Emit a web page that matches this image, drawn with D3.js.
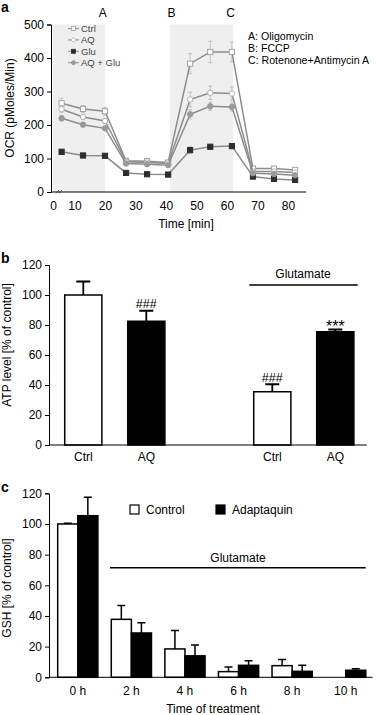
<!DOCTYPE html>
<html lang="en">
  <head>
    <meta charset="UTF-8" />
    <style>
      body { margin: 0; background: #fff; }
      svg { display: block; font-family: "Liberation Sans", Arial, sans-serif; }
      .domain { stroke: #000; }
      .tick line { stroke: #000; }
    </style>
    <title>ocr-atp-gsh</title>
  </head>
  <body>
    <svg width="376" height="715" id="svg"></svg>
    <script src="https://cdn.jsdelivr.net/npm/d3@7"></script>
    <script>
      // panel a: OCR over time (Seahorse)
      const timeMin = [4, 12.8, 20, 26.9, 33.8, 40.7, 47.9, 54.5, 61.6, 68.5, 75.4, 82.3];
      const ctrlOcr = [265, 248, 241, 93, 92, 88, 383, 418, 418, 70, 70, 66];
      const ctrlErr = [15, 10, 12, 6, 6, 6, 30, 32, 30, 5, 5, 5];
      const aqOcr = [247, 224, 212, 90, 88, 85, 276, 296, 294, 61, 61, 58];
      const aqErr = [10, 8, 8, 5, 5, 5, 22, 20, 20, 4, 4, 4];
      const gluOcr = [120, 109, 108, 57, 53, 52, 125, 135, 137, 46, 39, 36];
      const gluErr = [8, 6, 6, 4, 4, 4, 10, 8, 6, 3, 3, 3];
      const aqGluOcr = [220, 201, 190, 85, 83, 80, 232, 256, 254, 56, 54, 50];
      const aqGluErr = [8, 6, 6, 4, 4, 4, 14, 12, 12, 3, 3, 3];
      const ocrTicks = [0, 100, 200, 300, 400, 500];
      const timeTicks = [0, 10, 20, 30, 40, 50, 60, 70, 80];
      const injections = [
        { label: "A", from: 0, to: 20 },
        { label: "B", from: 41.3, to: 62 },
      ];
      const injectionLabels = [
        { label: "A", at: 19.3 },
        { label: "B", at: 41.8 },
        { label: "C", at: 61.2 },
      ];
      const injectionNotes = ["A: Oligomycin", "B: FCCP", "C: Rotenone+Antimycin A"];

      // panel b: ATP
      const atpKeys = ["ctrl", "aq", "gap", "ctrlGlu", "aqGlu"];
      const atpLabels = ["Ctrl", "AQ", "", "Ctrl", "AQ"];
      const atpValues = [100, 82.5, null, 35.5, 75.5];
      const atpErr = [9, 7, null, 5, 1.5];
      const atpMarks = ["", "###", "", "###", "***"];
      const atpTicks = [0, 20, 40, 60, 80, 100, 120];

      // panel c: GSH
      const gshTimes = ["0 h", "2 h", "4 h", "6 h", "8 h", "10 h"];
      const gshControl = [100, 37.8, 18.5, 3.7, 7.6, 0];
      const gshControlErr = [0.5, 9, 12, 3, 4, 0];
      const gshAq = [105.4, 28.9, 14, 7.8, 3.9, 4.6];
      const gshAqErr = [12, 6.7, 7, 3, 4, 1];
      const gshTicks = [0, 20, 40, 60, 80, 100, 120];

      const svg = d3.select("#svg");
      const fs = 12;

      function panelLetter(t, y) {
        svg.append("text").text(t).attr("x", 1).attr("y", y)
          .attr("font-size", 14).attr("font-weight", "bold");
      }
      function yTitle(t, cx, cy) {
        svg.append("text").text(t)
          .attr("transform", `translate(${cx},${cy}) rotate(-90)`)
          .attr("text-anchor", "middle").attr("font-size", fs);
      }
      function styleAxis(g) {
        g.selectAll("text").attr("font-size", fs).attr("fill", "#000")
          .attr("font-family", "Liberation Sans, Arial, sans-serif");
      }

      // ---------- panel a ----------
      const aLeft = 51, aRight = 306;
      const xa = d3.scaleLinear().domain([0, 10, 85]).range([53, 74.5, 303.3]);
      const ya = d3.scaleLinear().domain([0, 500]).range([192, 24.5]);
      const ga = svg.append("g");

      ga.selectAll("rect.shade").data(injections).join("rect")
        .attr("class", "shade")
        .attr("x", (d) => Math.max(aLeft, xa(d.from)))
        .attr("y", ya(500))
        .attr("width", (d) => xa(d.to) - Math.max(aLeft, xa(d.from)))
        .attr("height", ya(0) - ya(500))
        .attr("fill", "#efefef");

      ga.selectAll("text.inj").data(injectionLabels).join("text")
        .attr("class", "inj")
        .attr("x", (d) => xa(d.at)).attr("y", 17)
        .attr("text-anchor", "middle").attr("font-size", fs).text((d) => d.label);

      ga.selectAll("text.note").data(injectionNotes).join("text")
        .attr("class", "note")
        .attr("x", 248).attr("y", (d, i) => 40 + i * 12)
        .attr("font-size", 10.6).text((d) => d);

      const yAxA = ga.append("g").attr("transform", `translate(${aLeft},0)`)
        .call(d3.axisLeft(ya).tickValues(ocrTicks).tickSize(4).tickPadding(3));
      styleAxis(yAxA);
      const xAxA = ga.append("g").attr("transform", `translate(0,${ya(0)})`)
        .call(d3.axisBottom(xa).tickValues(timeTicks).tickSize(0).tickPadding(9).tickSizeOuter(0));
      xAxA.select(".domain").attr("d", `M${aLeft},0H${aRight}`);
      styleAxis(xAxA);
      // axis break marks
      [0, 3].forEach((o) => {
        ga.append("line")
          .attr("x1", 56 + o).attr("y1", ya(0) + 1.5)
          .attr("x2", 59 + o).attr("y2", ya(0) - 2)
          .attr("stroke", "#333").attr("stroke-width", 0.8);
      });

      svg.append("text").text("Time [min]").attr("x", 186).attr("y", 228)
        .attr("text-anchor", "middle").attr("font-size", fs);
      yTitle("OCR (pMoles/Min)", 14, 108);
      panelLetter("a", 12);

      const series = [
        { name: "Ctrl", v: ctrlOcr, e: ctrlErr, shape: "square", fill: "#fff", stroke: "#a3a3a3" },
        { name: "AQ", v: aqOcr, e: aqErr, shape: "circle", fill: "#fff", stroke: "#b0b0b0" },
        { name: "Glu", v: gluOcr, e: gluErr, shape: "square", fill: "#2e2e2e", stroke: "#2e2e2e" },
        { name: "AQ + Glu", v: aqGluOcr, e: aqGluErr, shape: "circle", fill: "#9a9a9a", stroke: "#9a9a9a" },
      ];
      const line = d3.line().x((d) => xa(d.t)).y((d) => ya(d.v));

      series.forEach((s) => {
        const pts = timeMin.map((t, i) => ({ t, v: s.v[i], e: s.e[i] }));
        const sg = ga.append("g");
        sg.selectAll("path.err").data(pts).join("path").attr("class", "err")
          .attr("d", (d) => {
            const x = xa(d.t), y1 = ya(d.v + d.e), y2 = ya(d.v - d.e);
            return `M${x},${y1}V${y2}M${x - 2},${y1}H${x + 2}M${x - 2},${y2}H${x + 2}`;
          })
          .attr("stroke", "#b5b5b5").attr("stroke-width", 0.8).attr("fill", "none");
        sg.append("path").datum(pts).attr("d", line)
          .attr("fill", "none").attr("stroke", "#8c8c8c").attr("stroke-width", 1.5);
        if (s.shape === "square") {
          sg.selectAll("rect").data(pts).join("rect")
            .attr("x", (d) => xa(d.t) - 2.6).attr("y", (d) => ya(d.v) - 2.6)
            .attr("width", 5.2).attr("height", 5.2)
            .attr("fill", s.fill).attr("stroke", s.stroke).attr("stroke-width", 1);
        } else {
          sg.selectAll("circle").data(pts).join("circle")
            .attr("cx", (d) => xa(d.t)).attr("cy", (d) => ya(d.v)).attr("r", 2.7)
            .attr("fill", s.fill).attr("stroke", s.stroke).attr("stroke-width", 1);
        }
      });

      // legend a
      const lg = ga.append("g");
      series.forEach((s, i) => {
        const y = 28.5 + i * 11.4;
        lg.append("line").attr("x1", 68).attr("x2", 79).attr("y1", y).attr("y2", y)
          .attr("stroke", "#9a9a9a").attr("stroke-width", 1.2);
        if (s.shape === "square") {
          lg.append("rect").attr("x", 71.5).attr("y", y - 2).attr("width", 4).attr("height", 4)
            .attr("fill", s.fill).attr("stroke", s.stroke).attr("stroke-width", 0.8);
        } else {
          lg.append("circle").attr("cx", 73.5).attr("cy", y).attr("r", 2)
            .attr("fill", s.fill).attr("stroke", s.stroke).attr("stroke-width", 0.8);
        }
        lg.append("text").text(s.name).attr("x", 81).attr("y", y + 3.3)
          .attr("font-size", 9.5).attr("fill", "#444");
      });

      // ---------- panel b ----------
      const bLeft = 49;
      const xb = d3.scaleBand().domain(atpKeys).range([51.8, 366.8])
        .paddingInner(0.41).paddingOuter(0.205);
      const yb = d3.scaleLinear().domain([0, 120]).range([445, 265]);
      const gb = svg.append("g");
      const atpData = atpKeys.map((k, i) => ({ k, v: atpValues[i], e: atpErr[i], lab: atpLabels[i], m: atpMarks[i], dark: i % 3 === 1 }))
        .filter((d) => d.v !== null);

      gb.selectAll("path.err").data(atpData).join("path").attr("class", "err")
        .attr("d", (d) => {
          const cx = xb(d.k) + xb.bandwidth() / 2;
          return `M${cx},${yb(d.v)}V${yb(d.v + d.e)}M${cx - 7},${yb(d.v + d.e)}H${cx + 7}`;
        })
        .attr("stroke", "#000").attr("stroke-width", 1.8).attr("fill", "none");
      gb.selectAll("rect.bar").data(atpData).join("rect").attr("class", "bar")
        .attr("x", (d) => xb(d.k)).attr("width", xb.bandwidth())
        .attr("y", (d) => yb(d.v)).attr("height", (d) => yb(0) - yb(d.v))
        .attr("fill", (d) => (d.dark ? "#000" : "#fff"))
        .attr("stroke", "#000").attr("stroke-width", 1.5);
      gb.selectAll("text.mark").data(atpData.filter((d) => d.m)).join("text").attr("class", "mark")
        .attr("x", (d) => xb(d.k) + xb.bandwidth() / 2)
        .attr("y", (d) => yb(d.v + d.e) + (d.m === "***" ? 2 : -2.5))
        .attr("text-anchor", "middle").attr("font-size", (d) => (d.m === "***" ? 16 : 12.5)).text((d) => d.m);

      const yAxB = gb.append("g").attr("transform", `translate(${bLeft},0)`)
        .call(d3.axisLeft(yb).tickValues(atpTicks).tickSize(4).tickPadding(3));
      styleAxis(yAxB);
      const xAxB = gb.append("g").attr("transform", `translate(0,${yb(0)})`)
        .call(d3.axisBottom(xb).tickSize(0).tickPadding(7.5).tickFormat((k) => atpLabels[atpKeys.indexOf(k)]));
      xAxB.select(".domain").attr("d", `M${bLeft},0H366.8`);
      styleAxis(xAxB);

      gb.append("line").attr("x1", 249.3).attr("x2", 357.7).attr("y1", 285).attr("y2", 285)
        .attr("stroke", "#000").attr("stroke-width", 1.5);
      gb.append("text").text("Glutamate").attr("x", 303).attr("y", 278)
        .attr("text-anchor", "middle").attr("font-size", fs);
      yTitle("ATP level [% of control]", 11, 345);
      panelLetter("b", 263);

      // ---------- panel c ----------
      const cLeft = 49;
      const xc = d3.scaleBand().domain(gshTimes).range([51, 372.5])
        .paddingInner(0.25).paddingOuter(0.125);
      const xcInner = d3.scaleBand().domain(["control", "aq"]).range([0, xc.bandwidth()]);
      const yc = d3.scaleLinear().domain([0, 120]).range([677.3, 493.3]);
      const gc = svg.append("g");
      const gshData = [];
      gshTimes.forEach((t, i) => {
        gshData.push({ t, s: "control", v: gshControl[i], e: gshControlErr[i] });
        gshData.push({ t, s: "aq", v: gshAq[i], e: gshAqErr[i] });
      });
      const shown = gshData.filter((d) => d.v > 0);

      gc.selectAll("path.err").data(shown).join("path").attr("class", "err")
        .attr("d", (d) => {
          const cx = xc(d.t) + xcInner(d.s) + xcInner.bandwidth() / 2;
          return `M${cx},${yc(d.v)}V${yc(d.v + d.e)}M${cx - 4},${yc(d.v + d.e)}H${cx + 4}`;
        })
        .attr("stroke", "#000").attr("stroke-width", 1.5).attr("fill", "none");
      gc.selectAll("rect.bar").data(shown).join("rect").attr("class", "bar")
        .attr("x", (d) => xc(d.t) + xcInner(d.s)).attr("width", xcInner.bandwidth())
        .attr("y", (d) => yc(d.v)).attr("height", (d) => yc(0) - yc(d.v))
        .attr("fill", (d) => (d.s === "aq" ? "#000" : "#fff"))
        .attr("stroke", "#000").attr("stroke-width", 1.5);

      const yAxC = gc.append("g").attr("transform", `translate(${cLeft},0)`)
        .call(d3.axisLeft(yc).tickValues(gshTicks).tickSize(4).tickPadding(3));
      styleAxis(yAxC);
      const xAxC = gc.append("g").attr("transform", `translate(0,${yc(0)})`)
        .call(d3.axisBottom(xc).tickSize(0).tickPadding(9));
      xAxC.select(".domain").attr("d", `M${cLeft},0H372.5`);
      styleAxis(xAxC);

      gc.append("line").attr("x1", 110).attr("x2", 365.7).attr("y1", 567.7).attr("y2", 567.7)
        .attr("stroke", "#000").attr("stroke-width", 1.5);
      gc.append("text").text("Glutamate").attr("x", 238).attr("y", 562)
        .attr("text-anchor", "middle").attr("font-size", fs);

      const legC = [
        { name: "Control", fill: "#fff", x: 130 },
        { name: "Adaptaquin", fill: "#000", x: 216 },
      ];
      legC.forEach((l) => {
        gc.append("rect").attr("x", l.x).attr("y", 505).attr("width", 9).attr("height", 9)
          .attr("fill", l.fill).attr("stroke", "#000").attr("stroke-width", 1.2);
        gc.append("text").text(l.name).attr("x", l.x + 16).attr("y", 514).attr("font-size", fs);
      });

      svg.append("text").text("Time of treatment").attr("x", 213).attr("y", 713)
        .attr("text-anchor", "middle").attr("font-size", fs);
      yTitle("GSH [% of control]", 11, 588);
      panelLetter("c", 492);
    </script>
  </body>
</html>
